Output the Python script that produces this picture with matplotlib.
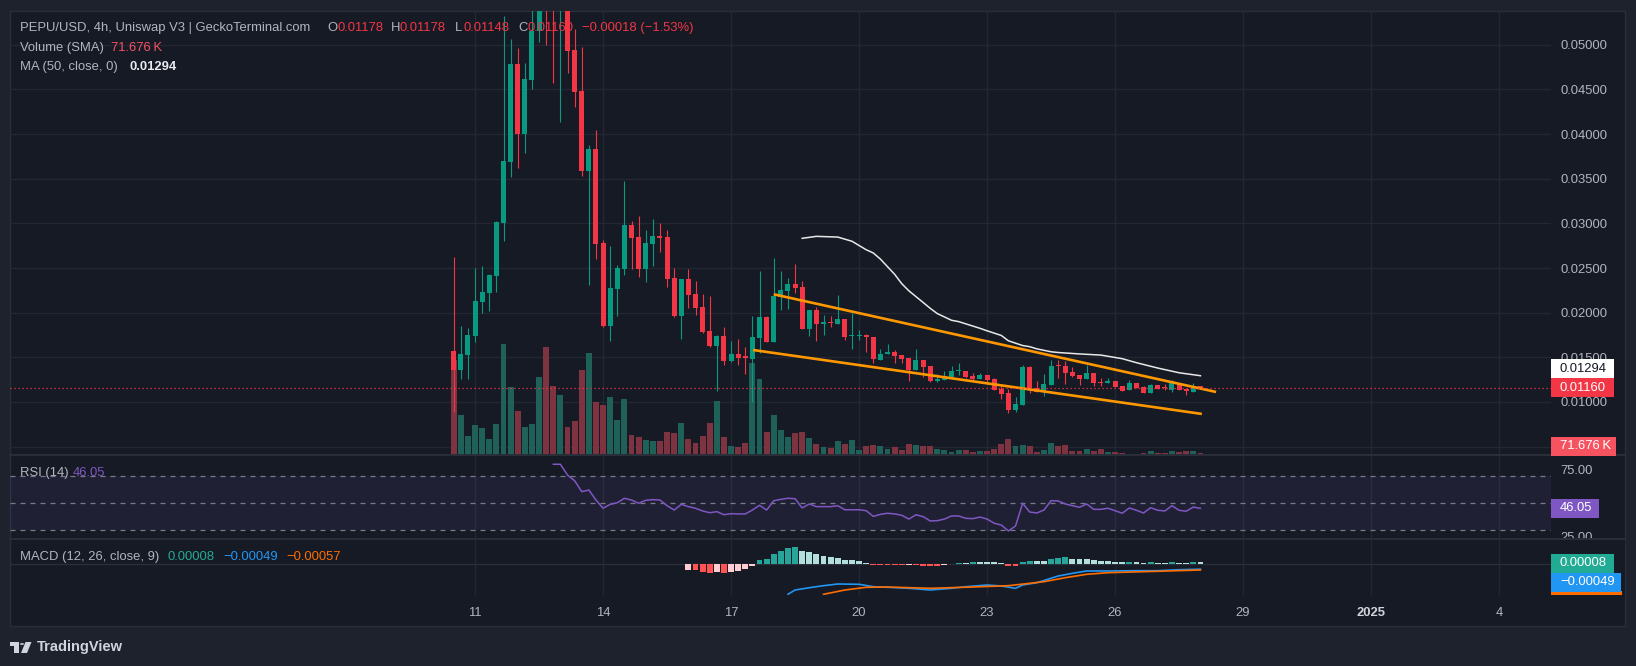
import numpy as np
import matplotlib.pyplot as plt
from matplotlib.patches import Rectangle, Circle, Polygon
from matplotlib.lines import Line2D

plt.rcParams['font.family'] = ['Liberation Sans', 'DejaVu Sans']

# ---- data (4h candles, index 0 = Dec 10 12:00) ----
opens = [0.01571, 0.01358, 0.01526, 0.01739, 0.02120, 0.02221, 0.02411, 0.03005, 0.03688, 0.04786,
         0.04002, 0.04606, 0.05155, 0.05650, 0.05450, 0.05400, 0.05500, 0.04942, 0.04483, 0.03587,
         0.03834, 0.02781, 0.01851, 0.02266, 0.02490, 0.02982, 0.02848, 0.02490, 0.02770, 0.02859,
         0.02848, 0.02389, 0.01963, 0.02378, 0.02210, 0.02064, 0.01795, 0.01627, 0.01739, 0.01459,
         0.01538, 0.01504, 0.01482, 0.01717, 0.01952, 0.01672, 0.02176, 0.02243, 0.02322, 0.02288,
         0.01818, 0.02030, 0.01874, 0.01896, 0.01874, 0.01930, 0.01739, 0.01739, 0.01750, 0.01728,
         0.01470, 0.01538, 0.01560, 0.01526, 0.01493, 0.01358, 0.01470, 0.01403, 0.01235, 0.01246,
         0.01280, 0.01342, 0.01347, 0.01291, 0.01258, 0.01302, 0.01258, 0.01146, 0.01101, 0.00910,
         0.00966, 0.01392, 0.01157, 0.01112, 0.01190, 0.01403, 0.01403, 0.01336, 0.01302, 0.01258,
         0.01325, 0.01224, 0.01213, 0.01235, 0.01179, 0.01134, 0.01213, 0.01168, 0.01101, 0.01190,
         0.01157, 0.01134, 0.01213, 0.01146, 0.01112, 0.01178]
highs = [0.02624, 0.01851, 0.01829, 0.02501, 0.02523, 0.02434, 0.03027, 0.05323, 0.05066, 0.04965,
         0.04797, 0.05450, 0.05700, 0.05800, 0.05550, 0.05650, 0.05600, 0.05178, 0.04976, 0.03878,
         0.04046, 0.02814, 0.02747, 0.02534, 0.03475, 0.03027, 0.03083, 0.02926, 0.03050, 0.03005,
         0.02926, 0.02501, 0.02378, 0.02490, 0.02355, 0.02210, 0.02187, 0.01750, 0.01840, 0.01683,
         0.01706, 0.01616, 0.01963, 0.02467, 0.01963, 0.02613, 0.02467, 0.02389, 0.02546, 0.02355,
         0.02030, 0.02064, 0.01974, 0.01963, 0.02198, 0.01930, 0.01997, 0.01806, 0.01762, 0.01728,
         0.01594, 0.01650, 0.01582, 0.01526, 0.01493, 0.01594, 0.01470, 0.01403, 0.01314, 0.01347,
         0.01403, 0.01437, 0.01347, 0.01325, 0.01325, 0.01302, 0.01269, 0.01190, 0.01146, 0.01056,
         0.01414, 0.01403, 0.01235, 0.01314, 0.01470, 0.01470, 0.01459, 0.01392, 0.01302, 0.01414,
         0.01325, 0.01269, 0.01269, 0.01235, 0.01179, 0.01246, 0.01213, 0.01179, 0.01197, 0.01190,
         0.01201, 0.01246, 0.01213, 0.01146, 0.01213, 0.01178]
lows = [0.00888, 0.01258, 0.01258, 0.01672, 0.01997, 0.02019, 0.02232, 0.02803, 0.03520, 0.03621,
        0.03789, 0.04506, 0.05032, 0.04998, 0.04573, 0.04136, 0.04685, 0.04304, 0.03531, 0.02310,
        0.02602, 0.01840, 0.01683, 0.01963, 0.02422, 0.02490, 0.02400, 0.02344, 0.02523, 0.02680,
        0.02288, 0.01952, 0.01706, 0.02053, 0.01974, 0.01773, 0.01616, 0.01123, 0.01414, 0.01448,
        0.01414, 0.01314, 0.01000, 0.01549, 0.01672, 0.01672, 0.02030, 0.02042, 0.02221, 0.01818,
        0.01739, 0.01683, 0.01750, 0.01840, 0.01874, 0.01694, 0.01594, 0.01694, 0.01560, 0.01437,
        0.01470, 0.01538, 0.01437, 0.01437, 0.01235, 0.01358, 0.01280, 0.01224, 0.01224, 0.01246,
        0.01280, 0.01302, 0.01269, 0.01224, 0.01258, 0.01197, 0.01134, 0.01034, 0.00877, 0.00888,
        0.00966, 0.01101, 0.01112, 0.01067, 0.01190, 0.01269, 0.01197, 0.01280, 0.01190, 0.01258,
        0.01179, 0.01179, 0.01213, 0.01168, 0.01123, 0.01134, 0.01157, 0.01101, 0.01101, 0.01146,
        0.01134, 0.01112, 0.01134, 0.01078, 0.01112, 0.01148]
closes = [0.01358, 0.01538, 0.01750, 0.02131, 0.02232, 0.02422, 0.03016, 0.03699, 0.04786, 0.04002,
          0.04618, 0.05155, 0.05550, 0.05450, 0.05400, 0.05500, 0.04931, 0.04472, 0.03587, 0.03834,
          0.02770, 0.01851, 0.02277, 0.02501, 0.02982, 0.02837, 0.02490, 0.02781, 0.02859, 0.02842,
          0.02378, 0.01963, 0.02378, 0.02198, 0.02053, 0.01784, 0.01627, 0.01739, 0.01459, 0.01538,
          0.01493, 0.01498, 0.01728, 0.01952, 0.01672, 0.02187, 0.02254, 0.02322, 0.02277, 0.01818,
          0.02030, 0.01874, 0.01896, 0.01885, 0.01930, 0.01728, 0.01750, 0.01750, 0.01728, 0.01482,
          0.01538, 0.01560, 0.01515, 0.01482, 0.01358, 0.01470, 0.01392, 0.01235, 0.01258, 0.01291,
          0.01347, 0.01347, 0.01280, 0.01258, 0.01302, 0.01246, 0.01134, 0.01090, 0.00910, 0.00978,
          0.01392, 0.01134, 0.01112, 0.01197, 0.01403, 0.01398, 0.01325, 0.01291, 0.01258, 0.01325,
          0.01213, 0.01213, 0.01235, 0.01168, 0.01123, 0.01213, 0.01157, 0.01101, 0.01190, 0.01146,
          0.01151, 0.01213, 0.01134, 0.01123, 0.01179, 0.01160]
volume_k = [760, 320, 152, 240, 216, 128, 248, 888, 544, 352, 224, 248, 624, 864, 552, 480, 224, 272,
            680, 816, 424, 400, 464, 280, 448, 160, 144, 120, 112, 112, 184, 176, 256, 128, 96, 152,
            256, 432, 144, 72, 64, 96, 736, 608, 184, 320, 200, 144, 176, 184, 136, 88, 64, 56, 112,
            88, 120, 40, 72, 80, 72, 48, 64, 40, 88, 80, 72, 72, 48, 40, 24, 40, 40, 24, 32, 32, 48,
            88, 128, 72, 80, 72, 24, 40, 96, 72, 80, 32, 32, 48, 32, 48, 24, 24, 16, 8, 8, 16, 32, 16,
            16, 32, 24, 32, 32, 16]

ma_idx = [49, 51, 54, 56, 58, 59, 60, 62, 63, 64, 66, 67, 68, 70, 71, 73, 74, 75, 77, 78, 80, 81,
          82, 84, 85, 88, 91, 94, 96, 99, 102, 105]
ma50 = [0.02833, 0.02855, 0.02847, 0.02800, 0.02705, 0.02669, 0.02600, 0.02430, 0.02325, 0.02245,
        0.02115, 0.02049, 0.01990, 0.01915, 0.01900, 0.01850, 0.01825, 0.01797, 0.01745, 0.01685,
        0.01632, 0.01619, 0.01595, 0.01562, 0.01554, 0.01538, 0.01525, 0.01485, 0.01440, 0.01380,
        0.01327, 0.01294]

# drawn trend lines (anchor index, price)
upper_line_x = [45, 107.2]
upper_line_y = [0.02206, 0.01112]
lower_line_x = [42.1, 105.2]
lower_line_y = [0.01582, 0.00866]

rsi_start = 14
rsi = [78.7, 78.7, 70.7, 66.5, 58.4, 59.6, 52.2, 46.1, 49.0, 50.2,
       53.5, 52.2, 49.8, 52.0, 52.5, 52.2, 48.0, 44.8, 49.0, 47.3,
       46.1, 44.1, 42.8, 43.6, 41.3, 42.1, 41.9, 41.9, 44.8, 48.3,
       44.8, 51.7, 52.7, 53.5, 53.2, 46.3, 49.3, 47.3, 47.3, 47.3,
       48.0, 45.0, 45.0, 45.0, 44.3, 40.1, 41.6, 42.4, 41.9, 40.9,
       38.1, 41.3, 39.9, 36.7, 36.9, 38.1, 40.4, 40.4, 38.7, 38.4,
       39.6, 38.1, 35.0, 33.7, 29.3, 33.0, 49.8, 43.3, 42.6, 44.8,
       51.7, 51.5, 49.3, 48.0, 46.8, 49.3, 45.3, 45.3, 46.1, 44.3,
       42.4, 46.3, 44.6, 42.6, 46.5, 44.6, 44.1, 48.0, 44.6, 43.9,
       47.0, 46.05]

hist_start = 33
macd_hist = [-5.3, -5.3, -7.3, -8.3, -7.3, -8.3, -7.3, -6.3, -4.3, -1.7,
             4.7, 5.7, 10.3, 13.3, 16.3, 17.3, 13.3, 12.0, 10.0, 8.3,
             7.7, 6.7, 4.3, 4.3, 3.7, 1.0, -0.7, -0.7, -0.7, -0.7,
             -1.0, -0.7, -0.7, -1.3, -1.3, -1.3, -1.0, 0.7, 1.3, 1.3,
             2.3, 2.3, 2.3, 2.3, 1.0, -1.3, -1.3, 2.7, 3.3, 3.3,
             3.3, 5.3, 6.0, 7.0, 5.7, 5.7, 5.0, 4.3, 3.7, 3.3,
             2.7, 2.7, 2.8, 2.0, 1.7, 2.0, 1.7, 1.7, 2.0, 1.7,
             1.7, 2.0, 2.0]  # in units of 1e-4
macd_idx = [47, 48, 50, 52, 54, 57, 59, 61, 64, 67, 70, 72, 75, 77, 79, 80, 82, 85, 87, 89, 92,
            96, 99, 102, 105]
macd_line = [-0.00300, -0.00257, -0.00234, -0.00214, -0.00197, -0.00200, -0.00224, -0.00230,
             -0.00240, -0.00257, -0.00240, -0.00224, -0.00207, -0.00217, -0.00240, -0.00207,
             -0.00184, -0.00117, -0.00090, -0.00067, -0.00067, -0.00064, -0.00064, -0.00054, -0.00049]
signal_idx = [52, 55, 58, 61, 67, 73, 78, 83, 86, 89, 92, 99, 105]
signal_line = [-0.00300, -0.00257, -0.00230, -0.00227, -0.00240, -0.00227, -0.00214, -0.00174,
               -0.00134, -0.00100, -0.00084, -0.00070, -0.00057]

date_idx = [3, 21, 39, 57, 75, 93, 111, 129, 147]
date_labels = ['11', '14', '17', '20', '23', '26', '29', '2025', '4']
price_ticks = [0.01, 0.015, 0.02, 0.025, 0.03, 0.035, 0.04, 0.045, 0.05]

# ---- figure set-up ----
W, H = 1636, 666
BG = '#161a25'
GRID = '#232734'
TXT = '#b2b5be'
UP, DN = '#089981', '#f23645'
FS = 9.4

fig = plt.figure(figsize=(W / 100, H / 100), dpi=100)
fig.patch.set_facecolor('#1e222d')


def fr(x0, y0, x1, y1):
    return [x0 / W, 1 - y1 / H, (x1 - x0) / W, (y1 - y0) / H]


def fx(x):
    return x / W


def fy(y):
    return 1 - y / H


fig.add_artist(Rectangle((fx(10), fy(626)), (1625 - 10) / W, (626 - 11) / H, transform=fig.transFigure,
                         facecolor=BG, edgecolor='#2a2e39', lw=1, zorder=-1))

XL = (-62.4, 154.3)
ax_vol = fig.add_axes(fr(10, 11, 1551, 455))
ax = fig.add_axes(fr(10, 11, 1551, 455))
ax_rsi = fig.add_axes(fr(10, 455, 1551, 539))
ax_macd = fig.add_axes(fr(10, 539, 1551, 595))

for a in (ax_vol, ax, ax_rsi, ax_macd):
    a.set_facecolor('none')
    a.set_xlim(*XL)
    for s in a.spines.values():
        s.set_visible(False)
    a.tick_params(axis='both', length=0, colors=TXT, labelsize=FS)
    a.set_xticks([])
    a.set_yticks([])

ax.set_ylim(0.00406, 0.05379)
ax_vol.set_ylim(0, 3552)
ax_rsi.set_ylim(23.33, 85.56)
ax_macd.set_ylim(-0.00307, 0.00253)

# grid
for a in (ax_vol, ax_rsi, ax_macd):
    for d in date_idx:
        a.axvline(d, color=GRID, lw=1, zorder=0)
ax_vol.hlines([0.005] + price_ticks, 0, 1, transform=ax.get_yaxis_transform(), color=GRID, lw=1, zorder=0)

# volume
x = np.arange(len(opens))
o, h, l, c = map(np.array, (opens, highs, lows, closes))
up = c >= o
ax_vol.bar(x, volume_k, width=0.82, color=np.where(up, '#1f6159', '#7e3440'), linewidth=0, zorder=1)

# candles
cols = np.where(up, UP, DN)
ax.vlines(x, l, h, colors=cols, lw=0.8, zorder=3)
ax.bar(x, np.maximum(np.abs(c - o), 0.00012), bottom=np.minimum(o, c), width=0.7, color=cols,
       linewidth=0, zorder=3)

ax.plot(ma_idx, ma50, color='#e8e8e8', lw=1.1, zorder=4)
ax.plot(upper_line_x, upper_line_y, color='#ff9800', lw=1.9, zorder=4, solid_capstyle='butt')
ax.plot(lower_line_x, lower_line_y, color='#ff9800', lw=1.9, zorder=4, solid_capstyle='butt')
ax.axhline(closes[-1], color=DN, lw=0.9, ls=(0, (1, 2.2)), zorder=5)

ax.yaxis.tick_right()
ax.set_yticks(price_ticks)
ax.set_yticklabels(['%.5f' % p for p in price_ticks])
ax.tick_params(axis='y', pad=6.5)

# RSI
ax_rsi.axhspan(30, 70, color='#7e57c2', alpha=0.1, lw=0, zorder=0)
for lev in (70, 50, 30):
    ax_rsi.axhline(lev, color='#787b86', lw=0.9, ls=(0, (4, 4)), zorder=1)
ax_rsi.plot(np.arange(rsi_start, rsi_start + len(rsi)), rsi, color='#7e57c2', lw=1.1, zorder=3)
ax_rsi.yaxis.tick_right()
ax_rsi.set_yticks([75, 25])
ax_rsi.set_yticklabels(['75.00', '25.00'])
ax_rsi.tick_params(axis='y', pad=6.5)

# MACD
hv = np.array(macd_hist) * 1e-4
hcols = []
for i, v in enumerate(hv):
    prev = hv[i - 1] if i > 0 else v
    if v >= 0:
        hcols.append('#26a69a' if v > prev else '#b2dfdb')
    else:
        hcols.append('#ff5252' if v <= prev and i > 0 else '#ffcdd2')
ax_macd.axhline(0, color='#2a2e39', lw=1, zorder=0)
ax_macd.bar(np.arange(hist_start, hist_start + len(hv)), hv, width=0.82, color=hcols, linewidth=0, zorder=2)
ax_macd.plot(macd_idx, macd_line, color='#2196f3', lw=1.2, zorder=3)
ax_macd.plot(signal_idx, signal_line, color='#ff6d00', lw=1.2, zorder=3)
ax_macd.set_xticks(date_idx)
ax_macd.set_xticklabels(date_labels)
ax_macd.tick_params(axis='x', pad=9)
for tl in ax_macd.get_xticklabels():
    if tl.get_text() == '2025':
        tl.set_fontweight('bold')
        tl.set_color('#d1d4dc')

# cover below RSI pane on the price scale, separators
fig.add_artist(Rectangle((fx(1551), fy(595)), 74 / W, 56 / H, transform=fig.transFigure,
                         facecolor=BG, edgecolor='none', zorder=1))
for yy in (455, 539):
    fig.add_artist(Line2D([fx(10), fx(1625)], [fy(yy), fy(yy)], transform=fig.transFigure,
                          color='#2a2e39', lw=1.4, zorder=2))


# value tags on the price scale
def tag(a, value, text, fc, tc, width, shift=0.0, hgt=19):
    yd = a.transData.transform((0, value))[1]
    yc = H - yd + shift
    fig.add_artist(Rectangle((fx(1551), fy(yc + hgt / 2)), width / W, hgt / H, transform=fig.transFigure,
                             facecolor=fc, edgecolor='none', zorder=3))
    fig.text(fx(1560), fy(yc), text, color=tc, fontsize=FS, va='center', ha='left', zorder=4)


tag(ax, ma50[-1], '0.01294', '#ffffff', '#131722', 63, shift=-7)
tag(ax, closes[-1], '0.01160', DN, '#ffffff', 63)
tag(ax_vol, 71.676, '71.676\u2009K', '#f7525f', '#ffffff', 65)
tag(ax_rsi, rsi[-1], '46.05', '#7e57c2', '#ffffff', 48)
tag(ax_macd, 0.00008, '0.00008', '#22ab94', '#ffffff', 63)
fig.add_artist(Rectangle((fx(1551), fy(595)), 71 / W, 4 / H, transform=fig.transFigure,
                         facecolor='#ff6d00', edgecolor='none', zorder=3))
tag(ax_macd, macd_line[-1], '\u22120.00049', '#2196f3', '#ffffff', 70, shift=13)


# legend texts
def t(xp, yp, s, col=TXT, **kw):
    fig.text(fx(xp), fy(yp), s, color=col, fontsize=FS, va='center', ha='left', **kw)


t(20, 28, 'PEPU/USD, 4h, Uniswap V3 | GeckoTerminal.com')
for xl, lab, xv, val in [(327, 'O', 337, '0.01178'), (391, 'H', 400, '0.01178'),
                         (455, 'L', 464, '0.01148'), (518, 'C', 527, '0.01160')]:
    t(xl, 28, lab)
    t(xv, 28, val, DN)
t(582, 28, '\u22120.00018 (\u22121.53%)', DN)
t(20, 48, 'Volume (SMA)')
t(111, 48, '71.676\u2009K', '#f7525f')
t(20, 67, 'MA (50, close, 0)')
t(130, 67, '0.01294', '#e8eaf0', fontweight='bold')
t(20, 473, 'RSI (14)')
t(73, 473, '46.05', '#7e57c2')
t(20, 557, 'MACD (12, 26, close, 9)')
t(167, 557, '0.00008', '#22ab94')
t(223, 557, '\u22120.00049', '#2196f3')
t(286, 557, '\u22120.00057', '#ff6d00')

# TradingView logo
LOGO = '#d1d4dc'
fig.add_artist(Rectangle((fx(10), fy(646)), 9 / W, 4 / H, transform=fig.transFigure, color=LOGO, lw=0))
fig.add_artist(Rectangle((fx(14.5), fy(653)), 4.5 / W, 11 / H, transform=fig.transFigure, color=LOGO, lw=0))
fig.add_artist(Circle((fx(22), fy(644)), 2.1 / W, transform=fig.transFigure, color=LOGO, lw=0))
fig.add_artist(Polygon([(fx(25.5), fy(642)), (fx(31.5), fy(642)), (fx(27), fy(653)), (fx(21), fy(653))],
                       closed=True, transform=fig.transFigure, color=LOGO, lw=0))
fig.text(fx(37), fy(647), 'TradingView', color=LOGO, fontsize=10.5, va='center', ha='left',
         fontweight='bold')

fig.savefig('out.png', dpi=100, facecolor=fig.get_facecolor())
